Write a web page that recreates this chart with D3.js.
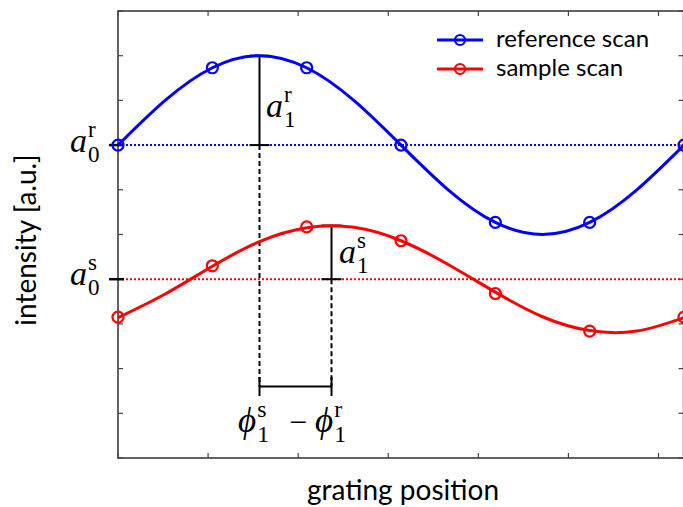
<!DOCTYPE html>
<html>
<head>
<meta charset="utf-8">
<style>
  body { margin: 0; background: #fff; }
  svg  { display: block; }
  .lbl { font-family: Lato, "Open Sans", sans-serif; fill: #000; }
  .math { font-family: "Liberation Serif", "DejaVu Serif", serif; fill: #000; }
</style>
<title>reference and sample scan</title>
</head>
<body>
<script src="https://cdn.jsdelivr.net/npm/d3@7"></script>
<script>

// data //////////////////////////////////////////////////////////////////////

// phase steps of the scan, degrees
var pointPhase = [0, 60, 120, 180, 240, 300, 360];
var refPoints    = [7.00, 8.73, 8.73, 7.00, 5.27, 5.27, 7.00];
var samplePoints = [3.15, 4.30, 5.17, 4.86, 3.68, 2.84, 3.15];

// fitted curves, read every 30 degrees
var curvePhase  = [0, 30, 60, 90, 120, 150, 180, 210, 240, 270, 300, 330, 360];
var refCurve    = [7.00, 8.00, 8.73, 9.00, 8.73, 8.00, 7.00, 6.00, 5.27, 5.00, 5.27, 6.00, 7.00];
var sampleCurve = [3.14, 3.67, 4.29, 4.84, 5.15, 5.16, 4.86, 4.33, 3.71, 3.16, 2.85, 2.84, 3.14];

// fit parameters: offset a0, amplitude a1, phase of the maximum
var offsets    = {ref: 7, sample: 4};
var amplitudes = {ref: 2, sample: 1.2};
var peakPhase  = {ref: 90, sample: 135.8};
var phaseBarLevel = 1.6;

var xTicks = [0, 1, 2, 3, 4, 5, 6];          // radians
var yTicks = [0, 1, 2, 3, 4, 5, 6, 7, 8, 9, 10];

var seriesNames  = ['reference scan', 'sample scan'];
var seriesColors = ['#0000ff', '#ff0000'];

// setup /////////////////////////////////////////////////////////////////////

var W = 683, H = 507;
var box = {left: 118, right: 683.5, top: 11, bottom: 458};

var svg = d3.select('body').append('svg')
    .attr('width', W)
    .attr('height', H);

var rad = d => d * Math.PI / 180;

var x = d3.scaleLinear()
    .domain([0, 2 * Math.PI])
    .range([box.left, 684]);

var y = d3.scaleLinear()
    .domain([0, 10])
    .range([box.bottom, box.top]);

// frame and ticks ///////////////////////////////////////////////////////////

var frame = svg.append('g');
frame.append('rect')
    .attr('x', box.left).attr('y', box.top)
    .attr('width', box.right - box.left).attr('height', box.bottom - box.top)
    .attr('fill', 'none').attr('stroke', '#222').attr('stroke-width', 1.4);

var tl = 5;
frame.selectAll('.xt').data(xTicks).join('g').call(g => {
  g.append('line')
    .attr('x1', d => x(d)).attr('x2', d => x(d))
    .attr('y1', box.bottom).attr('y2', box.bottom - tl);
  g.append('line')
    .attr('x1', d => x(d)).attr('x2', d => x(d))
    .attr('y1', box.top).attr('y2', box.top + tl);
});
frame.selectAll('.yt').data(yTicks).join('g').call(g => {
  g.append('line')
    .attr('x1', box.left).attr('x2', box.left + tl)
    .attr('y1', d => y(d)).attr('y2', d => y(d));
  g.append('line')
    .attr('x1', box.right).attr('x2', box.right - tl)
    .attr('y1', d => y(d)).attr('y2', d => y(d));
});
frame.selectAll('line').attr('stroke', '#444').attr('stroke-width', 1.2);

// offset lines ////////////////////////////////////////////////////////////

var offs = [offsets.ref, offsets.sample];
svg.selectAll('.off').data(offs).join('line')
    .attr('x1', box.left).attr('x2', box.right)
    .attr('y1', d => y(d)).attr('y2', d => y(d))
    .attr('stroke', (d, i) => seriesColors[i])
    .attr('stroke-width', 2)
    .attr('stroke-dasharray', '2,2');

// marks on the y axis at the offsets
svg.selectAll('.offmark').data(offs).join('line')
    .attr('x1', 109).attr('x2', 124)
    .attr('y1', d => y(d)).attr('y2', d => y(d))
    .attr('stroke', '#000').attr('stroke-width', 2.5);

// annotations ///////////////////////////////////////////////////////////////

var ann = svg.append('g').attr('stroke', '#000').attr('stroke-width', 2);
var cap = 10;

function amplitudeBar(key) {
  let px = x(rad(peakPhase[key]));
  let y0 = y(offsets[key]), y1 = y(offsets[key] + amplitudes[key]);
  ann.append('line').attr('x1', px).attr('x2', px).attr('y1', y0).attr('y2', y1);
  ann.append('line').attr('x1', px - cap).attr('x2', px + cap).attr('y1', y0).attr('y2', y0);
  ann.append('line').attr('x1', px - cap).attr('x2', px + cap).attr('y1', y1).attr('y2', y1);
  // dashed line down to the phase bar
  ann.append('line').attr('x1', px).attr('x2', px)
     .attr('y1', y0).attr('y2', y(phaseBarLevel))
     .attr('stroke-dasharray', '5,3');
}
amplitudeBar('ref');
amplitudeBar('sample');

var pa = x(rad(peakPhase.ref)), pb = x(rad(peakPhase.sample)), py = y(phaseBarLevel);
ann.append('line').attr('x1', pa).attr('x2', pb).attr('y1', py).attr('y2', py);
ann.append('line').attr('x1', pa).attr('x2', pa).attr('y1', py - 9.5).attr('y2', py + 9.5);
ann.append('line').attr('x1', pb).attr('x2', pb).attr('y1', py - 9.5).attr('y2', py + 9.5);

// curves and points /////////////////////////////////////////////////////////

var line = d3.line()
    .x(d => x(rad(d[0])))
    .y(d => y(d[1]))
    .curve(d3.curveNatural);

var curves = [refCurve, sampleCurve];
var points = [refPoints, samplePoints];

curves.forEach((c, i) => {
  svg.append('path')
    .attr('d', line(curvePhase.map((p, k) => [p, c[k]])))
    .attr('fill', 'none')
    .attr('stroke', seriesColors[i])
    .attr('stroke-width', 3);
});

points.forEach((p, i) => {
  svg.selectAll(`.pt-${i}`)
    .data(pointPhase.map((ph, k) => [ph, p[k]]))
    .join('circle')
      .attr('cx', d => x(rad(d[0])))
      .attr('cy', d => y(d[1]))
      .attr('r', 5.5)
      .attr('fill', 'none')
      .attr('stroke', seriesColors[i])
      .attr('stroke-width', 2.2);
});

// math labels ///////////////////////////////////////////////////////////////

function mathLabel(x0, base, baseTxt, sup, sub, size) {
  let g = svg.append('g');
  let t = g.append('text').attr('class', 'math')
      .attr('x', x0).attr('y', base)
      .attr('font-size', size).attr('font-style', 'italic')
      .text(baseTxt);
  let w = t.node().getComputedTextLength();
  let s = size * 0.68;
  g.append('text').attr('class', 'math')
      .attr('x', x0 + w + 1).attr('y', base - size * 0.44)
      .attr('font-size', s).text(sup);
  g.append('text').attr('class', 'math')
      .attr('x', x0 + w + 1).attr('y', base + size * 0.28)
      .attr('font-size', s).text(sub);
}

mathLabel(70, 152, 'a', 'r', '0', 34);
mathLabel(70, 285, 'a', 's', '0', 34);
mathLabel(266, 117, 'a', 'r', '1', 34);
mathLabel(339, 263, 'a', 's', '1', 34);

mathLabel(238, 432, '\u03D5', 's', '1', 35);
svg.append('text').attr('class', 'math')
    .attr('x', 298).attr('y', 433)
    .attr('font-size', 32).attr('text-anchor', 'middle')
    .text('\u2212');
mathLabel(315, 432, '\u03D5', 'r', '1', 35);

// legend ////////////////////////////////////////////////////////////////////

var legend = svg.append('g');
seriesNames.forEach((name, i) => {
  let ly = 40 + i * 29;
  legend.append('line')
    .attr('x1', 437).attr('x2', 483).attr('y1', ly).attr('y2', ly)
    .attr('stroke', seriesColors[i]).attr('stroke-width', 3);
  legend.append('circle')
    .attr('cx', 460).attr('cy', ly).attr('r', 5)
    .attr('fill', 'none').attr('stroke', seriesColors[i]).attr('stroke-width', 2.2);
  legend.append('text').attr('class', 'lbl')
    .attr('x', 496).attr('y', ly + 7)
    .attr('font-size', 24)
    .text(name);
});

// axis labels ///////////////////////////////////////////////////////////////

svg.append('text').attr('class', 'lbl')
    .attr('x', 403).attr('y', 500)
    .attr('font-size', 28).attr('text-anchor', 'middle')
    .text('grating position');

svg.append('text').attr('class', 'lbl')
    .attr('transform', 'translate(36,240) rotate(-90)')
    .attr('font-size', 28).attr('text-anchor', 'middle')
    .text('intensity [a.u.]');

</script>
</body>
</html>
